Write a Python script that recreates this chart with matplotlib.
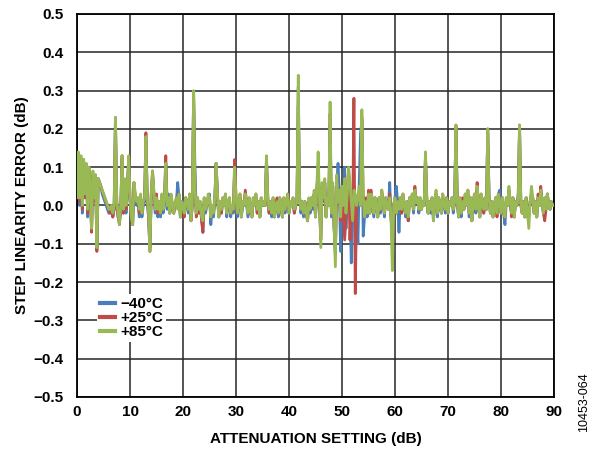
import matplotlib.pyplot as plt
import numpy as np
from matplotlib.ticker import FuncFormatter

# attenuation setting steps (dB)
step_db = 0.25

# step linearity error (dB), one row per 5 dB of attenuation
err_m40 = [
    0.03, 0.13, 0.00, 0.12, -0.02, 0.11, 0.02, 0.10, -0.03, 0.09, 0.03, -0.06, 0.08, 0.01, 0.07, -0.11, 0.07, 0.06, 0.05, 0.03,
    0.02, 0.01, 0.00, -0.01, -0.02, -0.02, -0.01, -0.03, -0.01, 0.23, 0.00, -0.03, -0.04, -0.01, 0.12, -0.02, 0.06, -0.02, 0.04, 0.12,
    0.01, -0.03, -0.05, 0.05, 0.02, 0.00, 0.01, -0.03, 0.02, -0.03, 0.00, 0.01, 0.17, 0.01, -0.03, -0.11, 0.02, 0.08, 0.03, -0.02,
    0.01, -0.03, 0.00, -0.03, 0.02, -0.02, 0.01, 0.11, -0.01, 0.03, -0.02, 0.02, -0.01, -0.02, 0.01, 0.01, 0.06, 0.02, -0.03, 0.00,
    0.01, -0.02, 0.02, 0.00, -0.02, 0.02, -0.04, 0.00, 0.29, 0.10, -0.02, 0.01, -0.02, 0.00, -0.03, -0.07, 0.01, -0.02, 0.00, 0.02,
    0.03, -0.05, 0.00, -0.03, 0.01, 0.11, 0.02, -0.03, 0.00, -0.02, 0.01, 0.00, 0.02, -0.03, 0.01, 0.01, -0.03, 0.00, -0.02, 0.10,
    0.01, -0.03, 0.01, 0.02, -0.03, 0.00, 0.00, 0.03, 0.00, -0.03, 0.01, -0.02, -0.03, 0.01, 0.00, 0.02, -0.02, 0.01, -0.03, 0.01,
    0.00, 0.00, 0.00, 0.12, 0.01, -0.02, 0.01, -0.03, 0.01, -0.03, 0.00, 0.01, -0.03, 0.02, -0.01, -0.03, 0.01, -0.02, 0.01, 0.02,
    -0.02, 0.00, 0.00, 0.01, -0.02, 0.00, 0.01, 0.31, 0.02, -0.02, 0.01, -0.03, 0.01, -0.02, -0.04, 0.01, -0.02, 0.02, -0.01, 0.03,
    -0.03, 0.04, 0.10, 0.00, -0.08, 0.05, 0.01, 0.06, -0.03, 0.02, 0.00, 0.21, -0.03, 0.05, -0.06, -0.12, 0.05, 0.11, 0.03, -0.12,
    0.04, 0.00, 0.10, -0.06, 0.02, 0.07, 0.01, -0.15, -0.03, 0.03, 0.02, -0.03, -0.10, 0.06, 0.19, 0.22, -0.08, -0.03, 0.01, -0.03,
    0.03, -0.02, 0.03, 0.00, -0.03, 0.02, 0.00, -0.03, 0.02, -0.02, 0.03, 0.01, -0.03, 0.02, 0.00, -0.01, 0.06, -0.03, -0.08, 0.00,
    0.02, 0.05, 0.01, -0.07, 0.02, -0.02, 0.02, 0.00, -0.03, 0.01, -0.04, 0.02, 0.00, 0.02, -0.02, 0.03, 0.01, 0.02, -0.02, 0.01,
    -0.01, 0.01, 0.00, 0.13, 0.01, -0.02, 0.01, -0.02, 0.02, -0.04, 0.01, 0.03, -0.03, 0.02, 0.00, -0.02, 0.02, 0.00, -0.02, 0.02,
    -0.02, 0.01, 0.00, 0.02, -0.02, 0.01, 0.20, 0.01, -0.03, 0.01, -0.03, 0.01, -0.01, 0.02, 0.00, 0.03, -0.03, 0.02, -0.04, 0.01,
    0.02, -0.02, 0.04, 0.00, -0.03, 0.02, 0.00, -0.02, 0.02, -0.01, 0.19, 0.02, -0.02, 0.01, -0.03, 0.00, 0.02, -0.02, 0.03, 0.04,
    -0.02, 0.02, -0.02, -0.05, 0.01, 0.00, 0.04, 0.00, -0.02, 0.02, -0.03, 0.01, 0.00, 0.03, 0.20, 0.01, -0.02, 0.01, -0.03, 0.02,
    -0.02, -0.03, 0.01, 0.03, 0.02, -0.02, 0.01, -0.03, 0.02, 0.00, 0.04, 0.01, -0.02, 0.02, -0.01, 0.03, 0.00, -0.01, 0.01, 0.00,
    0.00,
]

err_p25 = [
    0.03, 0.13, 0.01, 0.12, -0.01, 0.12, 0.02, 0.10, -0.02, 0.10, 0.03, -0.07, 0.08, 0.01, 0.08, -0.12, 0.07, 0.06, 0.05, 0.04,
    0.03, 0.02, 0.01, 0.00, -0.01, -0.02, 0.00, -0.03, -0.01, 0.22, 0.01, -0.03, -0.05, -0.01, 0.13, -0.02, 0.06, -0.01, 0.05, 0.12,
    0.02, -0.03, -0.05, 0.06, 0.02, 0.01, 0.02, -0.02, 0.02, -0.02, 0.01, 0.02, 0.19, 0.02, -0.03, -0.12, 0.03, 0.09, 0.03, -0.01,
    0.03, -0.02, 0.01, -0.02, 0.02, -0.01, 0.02, 0.13, 0.00, 0.01, -0.02, 0.02, 0.00, -0.02, 0.00, 0.02, 0.01, 0.03, -0.03, 0.01,
    0.00, -0.03, 0.02, 0.01, -0.01, 0.03, -0.04, 0.00, 0.29, 0.05, -0.03, 0.02, -0.02, 0.01, -0.04, -0.07, 0.02, -0.01, 0.00, 0.02,
    0.02, -0.03, -0.01, -0.02, 0.02, 0.11, 0.03, -0.03, 0.01, -0.02, 0.02, 0.00, 0.03, -0.02, 0.00, 0.02, -0.02, 0.00, -0.01, 0.12,
    0.02, -0.02, 0.01, 0.03, -0.03, 0.01, 0.00, 0.04, 0.01, -0.02, 0.02, -0.02, -0.03, 0.02, 0.00, 0.03, -0.02, 0.01, -0.03, 0.02,
    0.00, 0.01, 0.00, 0.12, 0.02, -0.02, 0.01, -0.02, 0.02, -0.03, 0.00, 0.02, -0.02, 0.02, 0.00, -0.03, 0.02, -0.01, 0.01, 0.03,
    -0.02, 0.01, 0.00, 0.02, -0.02, 0.00, 0.01, 0.26, 0.02, -0.01, 0.01, -0.02, 0.01, -0.02, -0.04, 0.01, -0.01, 0.02, 0.00, 0.03,
    -0.03, 0.04, 0.09, 0.01, -0.09, 0.05, 0.02, 0.06, -0.03, 0.02, 0.00, 0.24, -0.02, 0.05, -0.05, -0.13, 0.07, 0.01, 0.04, -0.04,
    0.05, -0.02, -0.09, -0.03, 0.03, 0.10, -0.09, 0.02, -0.04, 0.28, -0.23, 0.00, 0.02, 0.04, 0.00, 0.23, 0.02, -0.03, 0.02, -0.02,
    0.04, -0.02, 0.04, 0.01, -0.02, 0.02, 0.00, -0.03, 0.02, -0.01, 0.04, 0.01, -0.02, 0.02, 0.00, -0.01, 0.03, -0.03, -0.10, 0.00,
    0.02, -0.02, 0.01, -0.01, 0.02, -0.02, 0.03, 0.00, -0.02, 0.01, -0.04, 0.02, 0.00, 0.03, -0.01, 0.05, 0.01, 0.02, -0.01, 0.02,
    -0.01, 0.01, 0.00, 0.13, 0.02, -0.02, 0.01, -0.01, 0.02, -0.03, 0.01, 0.03, -0.02, 0.02, 0.00, -0.02, 0.03, 0.00, -0.01, 0.02,
    -0.02, 0.01, 0.00, 0.02, -0.01, 0.01, 0.21, 0.01, -0.03, 0.02, -0.02, 0.02, -0.01, 0.03, 0.00, 0.04, -0.02, 0.02, -0.04, 0.01,
    0.03, -0.01, 0.06, 0.00, -0.03, 0.03, 0.00, -0.02, 0.02, -0.01, 0.20, 0.02, -0.02, 0.01, -0.03, 0.00, 0.02, -0.03, 0.03, 0.01,
    -0.02, 0.02, -0.02, -0.03, 0.02, 0.00, 0.04, 0.01, -0.03, 0.02, -0.03, 0.01, 0.00, 0.02, 0.21, 0.00, -0.02, 0.01, -0.03, 0.02,
    -0.03, -0.02, 0.01, 0.03, 0.02, -0.02, 0.01, -0.03, 0.03, 0.00, 0.05, 0.01, -0.02, -0.04, -0.01, 0.03, 0.00, -0.01, 0.01, 0.00,
    0.00,
]

err_p85 = [
    0.02, 0.14, 0.02, 0.13, 0.00, 0.12, 0.03, 0.11, -0.01, 0.10, 0.04, -0.06, 0.09, 0.02, 0.08, -0.11, 0.07, 0.06, 0.05, 0.04,
    0.03, 0.02, 0.01, 0.00, -0.01, -0.01, 0.00, -0.02, 0.00, 0.23, 0.01, -0.02, -0.05, 0.00, 0.13, -0.01, 0.07, 0.00, 0.05, 0.13,
    0.02, -0.03, -0.05, 0.06, 0.03, 0.01, 0.02, -0.01, 0.03, -0.02, 0.01, 0.02, 0.18, 0.02, -0.02, -0.12, 0.03, 0.09, 0.04, -0.01,
    0.02, -0.01, 0.01, -0.02, 0.03, -0.01, 0.02, 0.11, 0.00, 0.02, -0.02, 0.03, 0.00, -0.02, 0.01, 0.02, -0.01, 0.03, -0.03, 0.01,
    0.00, -0.02, 0.02, 0.01, -0.01, 0.03, -0.04, 0.00, 0.30, 0.05, -0.02, 0.02, -0.01, 0.01, -0.03, -0.04, 0.02, -0.01, 0.00, 0.03,
    0.02, -0.03, 0.00, -0.02, 0.02, 0.11, 0.03, -0.03, 0.01, -0.01, 0.02, 0.00, 0.03, -0.02, 0.01, 0.02, -0.02, 0.00, -0.01, 0.10,
    0.02, -0.02, 0.01, 0.03, -0.03, 0.01, 0.00, 0.03, 0.01, -0.02, 0.02, -0.01, -0.03, 0.02, 0.00, 0.03, -0.01, 0.01, -0.03, 0.02,
    0.00, 0.01, 0.00, 0.13, 0.02, -0.01, 0.01, -0.02, 0.02, -0.03, 0.00, 0.01, -0.02, 0.02, 0.00, -0.03, 0.02, -0.01, 0.01, 0.03,
    -0.02, 0.01, 0.00, 0.02, -0.01, 0.00, 0.01, 0.34, 0.02, -0.01, 0.01, -0.02, 0.01, -0.02, -0.04, 0.02, -0.01, 0.02, 0.00, 0.04,
    -0.03, 0.05, 0.14, 0.01, -0.11, 0.06, 0.02, 0.07, -0.03, 0.02, 0.00, 0.27, -0.02, 0.06, -0.05, -0.16, 0.08, 0.01, 0.04, -0.03,
    0.05, 0.00, 0.07, -0.02, 0.03, 0.10, 0.06, 0.01, -0.04, 0.04, 0.03, 0.00, 0.02, 0.05, 0.00, 0.25, 0.02, -0.03, 0.01, -0.02,
    0.03, -0.02, 0.03, 0.01, -0.02, 0.02, 0.00, -0.03, 0.02, -0.01, 0.04, 0.01, -0.02, 0.02, 0.00, -0.01, 0.02, -0.03, -0.17, 0.00,
    0.02, -0.02, 0.01, -0.01, 0.02, -0.01, 0.03, 0.00, -0.02, 0.01, -0.03, 0.02, 0.00, 0.03, -0.01, 0.04, 0.01, 0.02, -0.01, 0.02,
    -0.01, 0.01, 0.00, 0.14, 0.02, -0.02, 0.01, -0.01, 0.02, -0.04, 0.01, 0.04, -0.02, 0.02, 0.00, -0.02, 0.03, 0.00, -0.01, 0.02,
    -0.02, 0.01, 0.00, 0.02, -0.01, 0.01, 0.21, 0.01, -0.03, 0.02, -0.02, 0.01, -0.01, 0.03, 0.00, 0.04, -0.02, 0.02, -0.04, 0.01,
    0.03, -0.01, 0.05, 0.00, -0.03, 0.03, 0.00, -0.01, 0.02, -0.01, 0.20, 0.02, -0.02, 0.01, -0.03, 0.00, 0.02, -0.02, 0.03, 0.01,
    -0.02, 0.02, -0.01, -0.03, 0.02, 0.00, 0.05, 0.01, -0.02, 0.02, -0.03, 0.01, 0.00, 0.02, 0.21, 0.00, -0.02, 0.01, -0.03, 0.02,
    -0.02, -0.06, 0.01, 0.05, 0.02, -0.02, 0.01, -0.03, 0.02, 0.00, 0.04, 0.01, -0.02, 0.02, -0.01, 0.03, 0.00, -0.01, 0.01, 0.00,
    0.00,
]

labels = ['\u221240\u00b0C', '+25\u00b0C', '+85\u00b0C']
colors = ['#4a7ebb', '#be4b48', '#98b954']

plt.rcParams['font.family'] = ['Liberation Sans', 'DejaVu Sans']
plt.rcParams['font.weight'] = 'bold'

fig = plt.figure(figsize=(5.98, 4.54), dpi=100)
ax = fig.add_axes([0.1288, 0.1256, 0.7976, 0.8436])

for err, lab, col in zip([err_m40, err_p25, err_p85], labels, colors):
    x = np.arange(len(err)) * step_db
    ax.plot(x, err, color=col, lw=2.0, label=lab, solid_joinstyle='round', zorder=3)

ax.set_xlim(0, 90)
ax.set_ylim(-0.5, 0.5)
ax.set_xticks(np.arange(0, 91, 10))
ax.set_yticks(np.round(np.arange(-0.5, 0.51, 0.1), 1))
ax.yaxis.set_major_formatter(FuncFormatter(
    lambda v, p: f'{v:.1f}'.replace('-', '\u2212') if abs(v) > 1e-9 else '0.0'))
ax.grid(True, color='#262626', lw=1.1)
ax.tick_params(axis='y', length=0, labelsize=11, pad=10)
ax.tick_params(axis='x', length=0, labelsize=11, pad=6)
for s in ax.spines.values():
    s.set_linewidth(1.3)
    s.set_color('black')

ax.set_xlabel('ATTENUATION SETTING (dB)', fontsize=11, fontweight='bold', labelpad=9)
ax.set_ylabel('STEP LINEARITY ERROR (dB)', fontsize=11, fontweight='bold', labelpad=3)

leg = ax.legend(loc='upper left', bbox_to_anchor=(0.042, 0.268), frameon=True,
                fontsize=11, handlelength=1.0, handletextpad=0.3,
                labelspacing=0.0, borderpad=0.2, borderaxespad=0)
leg.get_frame().set_edgecolor('none')
leg.get_frame().set_facecolor('white')
leg.get_frame().set_alpha(1)
for h in leg.get_lines():
    h.set_linewidth(3)

fig.text(0.977, 0.115, '10453-064', rotation=90, fontsize=9, fontweight='normal',
         ha='center', va='center')

fig.savefig('out.png', dpi=100)
